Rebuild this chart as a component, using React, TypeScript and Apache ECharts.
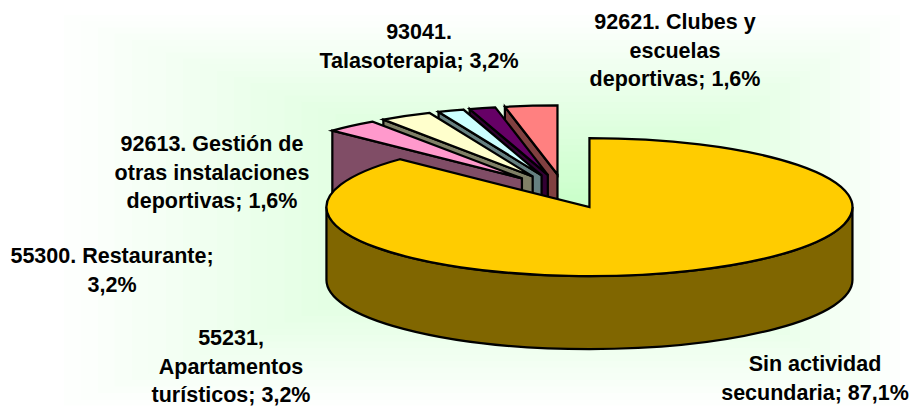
import React, { useEffect, useRef } from "react";
import * as echarts from "echarts";

const categories = [
  "Sin actividad secundaria",
  "55231, Apartamentos turísticos",
  "55300. Restaurante",
  "92613. Gestión de otras instalaciones deportivas",
  "92621. Clubes y escuelas deportivas",
  "93041. Talasoterapia",
];
const shares = [87.1, 3.2, 3.2, 1.6, 1.6, 3.2];
const topColors = ["#FFCC00", "#FF99CC", "#FFFFCC", "#CCFFFF", "#660066", "#FF8080"];
const wallColors = ["#806600", "#804D66", "#808066", "#668080", "#330033", "#804040"];

const labelLines = [
  ["Sin actividad", "secundaria; 87,1%"],
  ["55231,", "Apartamentos", "turísticos; 3,2%"],
  ["55300. Restaurante;", "3,2%"],
  ["92613. Gestión de", "otras instalaciones", "deportivas; 1,6%"],
  ["92621. Clubes y", "escuelas", "deportivas; 1,6%"],
  ["93041.", "Talasoterapia; 3,2%"],
];
const labelAnchors = [
  [815, 364],
  [231, 338],
  [112, 256],
  [212, 144],
  [675, 22],
  [419, 32],
];

const PIE = { cx: 564, cy: 191.4, rx: 263, ry: 69, depth: 73, explode: 0.247 };
const LINE_H = 28.6;
const total = shares.reduce((a, b) => a + b, 0);

function pt(cx: number, cy: number, deg: number) {
  const t = (deg * Math.PI) / 180;
  return [cx + PIE.rx * Math.sin(t), cy - PIE.ry * Math.cos(t)];
}

// Office-style rectangular "from centre" fill: nested rectangles fading to white.
function backgroundRects() {
  const c = { x: 590, y: 207, l: 543, r: 320, t: 198, b: 205 };
  const steps = 32;
  const rects: any[] = [];
  for (let k = steps; k >= 1; k--) {
    const t = k / steps;
    const v = Math.round(200 + 55 * t);
    rects.push({
      type: "rect",
      silent: true,
      z: -10,
      shape: {
        x: c.x - t * c.l,
        y: c.y - t * c.t,
        width: t * (c.l + c.r),
        height: t * (c.t + c.b),
      },
      style: { fill: `rgb(${v},255,${v})` },
    });
  }
  return rects;
}

function renderSlice(params: any, api: any) {
  const i = params.dataIndex;
  let acc = 0;
  for (let k = 0; k < i; k++) acc += shares[k];
  const start = (acc / total) * 360;
  const end = ((acc + api.value(0)) / total) * 360;
  const mid = ((start + end) / 2) * (Math.PI / 180);
  const cx = PIE.cx + PIE.explode * PIE.rx * Math.sin(mid);
  const cy = PIE.cy - PIE.explode * PIE.ry * Math.cos(mid);
  const a = pt(cx, cy, start);
  const b = pt(cx, cy, end);
  const d = PIE.depth;
  const large = end - start > 180 ? 1 : 0;
  const base = i === 0 ? 20 : 10 - i;
  const sharedStroke = { stroke: "#000", lineWidth: 2.25, lineJoin: "miter" };
  const children: any[] = [];

  if (start > 180 && start < 360) {
    children.push({
      type: "path",
      z2: base,
      shape: {
        pathData: `M${cx} ${cy}L${a[0]} ${a[1]}L${a[0]} ${a[1] + d}L${cx} ${cy + d}Z`,
      },
      style: { fill: wallColors[i], ...sharedStroke },
    });
  }
  const wa = Math.max(start, 90);
  const wb = Math.min(end, 270);
  if (wb > wa) {
    const p = pt(cx, cy, wa);
    const q = pt(cx, cy, wb);
    children.push({
      type: "path",
      z2: base,
      shape: {
        pathData:
          `M${p[0]} ${p[1]}A${PIE.rx} ${PIE.ry} 0 0 1 ${q[0]} ${q[1]}` +
          `L${q[0]} ${q[1] + d}A${PIE.rx} ${PIE.ry} 0 0 0 ${p[0]} ${p[1] + d}Z`,
      },
      style: { fill: wallColors[i], ...sharedStroke },
    });
  }
  children.push({
    type: "path",
    z2: base + 1,
    shape: {
      pathData: `M${cx} ${cy}L${a[0]} ${a[1]}A${PIE.rx} ${PIE.ry} 0 ${large} 1 ${b[0]} ${b[1]}Z`,
    },
    style: { fill: topColors[i], ...sharedStroke },
  });
  const [lx, ly] = labelAnchors[i];
  labelLines[i].forEach((line, n) => {
    children.push({
      type: "text",
      z2: 40,
      x: lx,
      y: ly + n * LINE_H,
      style: {
        text: line,
        fill: "#000",
        font: 'bold 21.5px "Liberation Sans", Arial, sans-serif',
        align: "center",
        verticalAlign: "middle",
      },
    });
  });
  return { type: "group", children };
}

export default function App() {
  const ref = useRef<HTMLDivElement>(null);
  useEffect(() => {
    const chart = echarts.init(ref.current!, null, { renderer: "svg" });
    chart.setOption({
      animation: false,
      backgroundColor: "#FFFFFF",
      graphic: { elements: backgroundRects() },
      series: [
        {
          type: "custom",
          coordinateSystem: "none",
          silent: true,
          clip: false,
          z: 5,
          renderItem: renderSlice,
          data: shares.map((v, i) => ({ name: categories[i], value: [v] })),
        },
      ],
    });
    return () => chart.dispose();
  }, []);
  return (
    <div
      ref={ref}
      style={{ position: "fixed", left: 0, top: 0, width: 910, height: 406 }}
    />
  );
}
